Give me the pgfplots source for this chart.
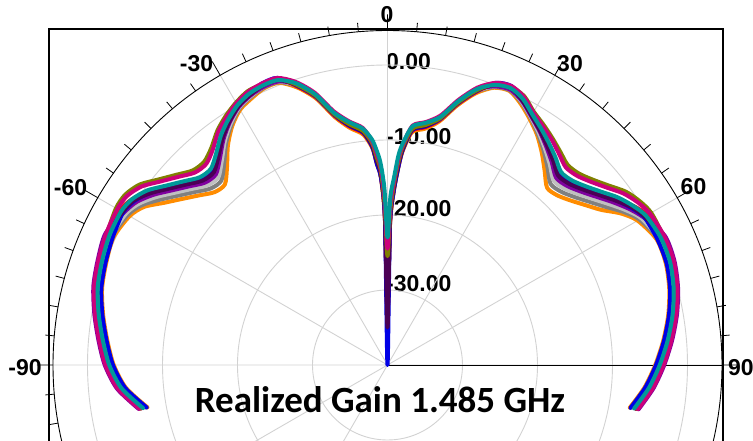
\documentclass[border=0pt]{standalone}
\usepackage{pgfplots}
\pgfplotsset{compat=1.18}
\usepackage{pgfplotstable}
\usepgfplotslibrary{polar}
\usepackage{fontspec}
\setmainfont{Liberation Sans}
\newfontfamily\calibri{Carlito}

\definecolor{cTe}{RGB}{0,153,153}
\definecolor{cOl}{RGB}{128,128,0}
\definecolor{cMg}{RGB}{204,0,122}
\definecolor{cBl}{RGB}{0,0,230}
\definecolor{cDp}{RGB}{75,0,85}
\definecolor{cPu}{RGB}{128,0,160}
\definecolor{cRd}{RGB}{255,0,0}
\definecolor{cSv}{RGB}{192,192,192}
\definecolor{cGy}{RGB}{128,128,128}
\definecolor{cOg}{RGB}{255,140,0}
\definecolor{cGrid}{RGB}{210,210,210}

% angle t: degrees from the top, clockwise; values: realized gain in dB
\pgfplotstableread{
t te ol mg bl dp pu rd sv gy og
-100 -6.9 -6.5 -6.4 -7.4 -6.6 -6.3 -6.7 -7.2 -7.3 -7.5
-95 -4.4 -4.0 -3.9 -4.9 -4.1 -3.8 -4.2 -4.7 -4.8 -5.0
-90 -2.9 -2.5 -2.4 -3.4 -2.6 -2.3 -2.7 -3.2 -3.3 -3.5
-85 -1.9 -1.5 -1.4 -2.4 -1.6 -1.3 -1.7 -2.2 -2.3 -2.5
-80 -0.9 -0.5 -0.4 -1.4 -0.6 -0.3 -0.7 -1.2 -1.3 -1.5
-75 0.0 0.4 0.5 -0.5 0.3 0.6 0.2 -0.3 -0.4 -0.6
-70 0.5 0.9 1.0 0.0 0.8 1.1 0.7 0.2 0.1 -0.1
-65 0.9 1.3 1.4 0.4 1.2 1.5 1.1 0.6 0.5 0.3
-60 1.0 1.8 1.6 0.7 0.8 0.6 1.2 0.3 0.0 -0.3
-57 0.6 1.7 1.4 0.2 0.3 -0.1 0.6 -0.5 -0.9 -1.3
-54 -0.4 0.9 0.5 -0.9 -1.0 -1.4 -0.7 -1.9 -2.5 -3.2
-51 -2.0 -0.7 -1.1 -2.5 -2.6 -3.0 -2.3 -3.5 -4.1 -4.8
-48 -3.4 -2.1 -2.5 -3.9 -4.0 -4.4 -3.7 -4.9 -5.5 -6.2
-45 -4.6 -3.3 -3.7 -5.1 -5.2 -5.6 -4.9 -6.1 -6.7 -7.4
-42 -4.8 -3.5 -3.9 -5.3 -5.4 -5.8 -5.1 -6.3 -6.9 -7.6
-39 -3.7 -2.7 -3.0 -4.1 -4.2 -4.5 -4.0 -4.9 -5.4 -6.0
-36 -2.2 -1.4 -1.6 -2.5 -2.6 -2.8 -2.4 -3.1 -3.4 -3.8
-33 -1.0 -0.4 -0.6 -1.2 -1.3 -1.4 -1.1 -1.6 -1.8 -2.0
-30 0.0 0.4 0.3 0.0 -0.2 -0.3 0.1 -0.4 -0.5 -0.7
-27 0.6 1.0 0.9 0.6 0.4 0.3 0.7 0.2 0.1 -0.1
-24 0.8 1.0 1.1 1.1 0.8 0.6 1.0 0.6 0.5 0.4
-21 0.7 0.9 1.0 1.0 0.7 0.5 0.9 0.5 0.4 0.3
-18 -0.5 -0.7 -0.3 -0.8 -0.7 -0.6 -0.9 -0.8 -0.9 -1.1
-15 -2.6 -2.8 -2.4 -2.9 -2.8 -2.7 -3.0 -2.9 -3.0 -3.2
-12 -5.6 -5.8 -5.4 -5.9 -5.8 -5.7 -6.0 -5.9 -6.0 -6.2
-9 -7.2 -7.5 -7.1 -7.7 -7.6 -7.5 -7.8 -7.6 -7.7 -8.0
-6 -8.3 -8.6 -8.2 -8.8 -8.7 -8.6 -8.9 -8.7 -8.8 -9.1
-4 -9.8 -10.3 -10.0 -10.8 -10.6 -10.4 -10.8 -10.6 -10.8 -11.0
-3 -11.2 -12.2 -11.7 -13.2 -12.7 -12.4 -13.0 -12.7 -13.0 -13.2
-2 -13.0 -14.0 -13.5 -15.0 -14.5 -14.2 -14.8 -14.5 -14.8 -15.0
-1 -16.5 -18.5 -17.5 -20.5 -19.5 -19.5 -20.0 -19.5 -20.0 -20.5
0 -23.0 -25.5 -24.5 -40 -35 -33 -33 -33 -33 -33
1 -17.5 -19.5 -18.5 -21.5 -20.5 -20.5 -21.0 -20.5 -21.0 -21.5
2 -15.0 -16.0 -15.5 -17.0 -16.5 -16.2 -16.8 -16.5 -16.8 -17.0
3 -12.0 -13.0 -12.5 -14.0 -13.5 -13.2 -13.8 -13.5 -13.8 -14.0
4 -10.3 -10.8 -10.5 -11.3 -11.1 -10.9 -11.3 -11.1 -11.3 -11.5
6 -8.0 -8.3 -7.9 -8.5 -8.4 -8.3 -8.6 -8.4 -8.5 -8.8
9 -7.3 -7.6 -7.2 -7.8 -7.7 -7.6 -7.9 -7.7 -7.8 -8.1
12 -6.2 -6.4 -6.0 -6.5 -6.4 -6.3 -6.6 -6.5 -6.6 -6.8
15 -3.6 -3.8 -3.4 -3.9 -3.8 -3.7 -4.0 -3.9 -4.0 -4.2
18 -1.3 -1.5 -1.1 -1.6 -1.5 -1.4 -1.7 -1.6 -1.7 -1.9
21 0.0 0.2 0.3 0.3 0.0 -0.2 0.2 -0.2 -0.3 -0.4
24 0.4 0.6 0.7 0.7 0.4 0.2 0.6 0.2 0.1 0.0
27 -0.2 0.2 0.1 -0.2 -0.4 -0.5 -0.1 -0.6 -0.7 -0.9
30 -1.4 -1.0 -1.1 -1.4 -1.6 -1.7 -1.3 -1.8 -1.9 -2.1
33 -2.4 -1.8 -2.0 -2.6 -2.7 -2.8 -2.5 -3.0 -3.2 -3.4
36 -3.4 -2.6 -2.8 -3.7 -3.8 -4.0 -3.6 -4.3 -4.6 -5.0
39 -4.4 -3.4 -3.7 -4.8 -4.9 -5.2 -4.7 -5.6 -6.1 -6.7
42 -5.4 -4.1 -4.5 -5.9 -6.0 -6.4 -5.7 -6.9 -7.5 -8.2
45 -5.2 -3.9 -4.3 -5.7 -5.8 -6.2 -5.5 -6.7 -7.3 -8.0
48 -4.4 -3.1 -3.5 -4.9 -5.0 -5.4 -4.7 -5.9 -6.5 -7.2
51 -3.3 -2.0 -2.4 -3.8 -3.9 -4.3 -3.6 -4.8 -5.4 -6.1
54 -2.0 -0.7 -1.1 -2.5 -2.6 -3.0 -2.3 -3.5 -4.1 -4.8
57 -1.0 0.1 -0.2 -1.4 -1.3 -1.7 -1.0 -2.1 -2.5 -2.9
60 -0.2 0.6 0.4 -0.5 -0.4 -0.6 0.0 -0.9 -1.2 -1.5
65 0.2 0.6 0.7 -0.3 0.5 0.8 0.4 -0.1 -0.2 -0.4
70 0.1 0.5 0.6 -0.4 0.4 0.7 0.3 -0.2 -0.3 -0.5
75 -0.5 -0.1 0.0 -1.0 -0.2 0.1 -0.3 -0.8 -0.9 -1.1
80 -1.4 -1.0 -0.9 -1.9 -1.1 -0.8 -1.2 -1.7 -1.8 -2.0
85 -2.5 -2.1 -2.0 -3.0 -2.2 -1.9 -2.3 -2.8 -2.9 -3.1
90 -3.7 -3.3 -3.2 -4.2 -3.4 -3.1 -3.5 -4.0 -4.1 -4.3
95 -5.0 -4.6 -4.5 -5.5 -4.7 -4.4 -4.8 -5.3 -5.4 -5.6
100 -6.6 -6.2 -6.1 -7.1 -6.3 -6.0 -6.4 -6.9 -7.0 -7.2
}\gaindata

\begin{document}
\begin{tikzpicture}
\useasboundingbox (0pt,0pt) rectangle (753pt,441pt);
\clip (0pt,0pt) rectangle (753pt,441pt);
\begin{scope}[every node/.style={font=\bfseries\fontsize{23}{23}\selectfont, inner sep=0pt}]
\node at (387pt,426pt) {0};
\node at (196.5pt,377.5pt) {-30};
\node at (570pt,377.5pt) {30};
\node at (70.5pt,253.5pt) {-60};
\node at (693.5pt,254.5pt) {60};
\node at (25pt,73pt) {-90};
\node[anchor=west] at (728pt,73.5pt) {90};
\node[anchor=base west] at (386pt,371pt) {0.00};
\node[anchor=base west] at (386pt,296pt) {-10.00};
\node[anchor=base west] at (386pt,224pt) {-20.00};
\node[anchor=base west] at (386pt,149pt) {-30.00};
\end{scope}
\begin{polaraxis}[
  at={(387.5pt,76pt)}, anchor=center,
  scale only axis, width=669pt, height=669pt,
  x coord trafo/.code={\pgfmathparse{90-#1}},
  x coord inv trafo/.code={\pgfmathparse{90-#1}},
  y coord trafo/.code={\pgfmathparse{#1+40}},
  y coord inv trafo/.code={\pgfmathparse{#1-40}},
  ymin=-40, ymax=4.6,
  xtick={-150,-120,...,180},
  minor x tick num=5,
  ytick={-30,-20,-10,0},
  xticklabels={}, yticklabels={},
  tick align=inside,
  major tick length=16pt, minor tick length=9pt,
  xmajorgrids, ymajorgrids,
  major grid style={draw=cGrid, line width=0.9pt},
  axis line style={black, line width=0.9pt},
  every tick/.style={black, line width=0.8pt},
  ytick style={draw=none},
  clip=false,
  every axis plot/.append style={no markers, smooth, tension=0.45, line width=4pt, line join=round, line cap=round},
]
\addplot[color=cOg] table[x=t,y=og]{\gaindata};
\addplot[color=cGy] table[x=t,y=gy]{\gaindata};
\addplot[color=cSv] table[x=t,y=sv]{\gaindata};
\addplot[color=cPu] table[x=t,y=pu]{\gaindata};
\addplot[color=cRd] table[x=t,y=rd]{\gaindata};
\addplot[color=cBl] table[x=t,y=bl]{\gaindata};
\addplot[color=cDp] table[x=t,y=dp]{\gaindata};
\addplot[color=cOl] table[x=t,y=ol]{\gaindata};
\addplot[color=cMg] table[x=t,y=mg]{\gaindata};
\addplot[color=cTe] table[x=t,y=te]{\gaindata};
\end{polaraxis}
\draw[black, line width=1.2pt] (49pt,412pt) rectangle (723pt,-300pt);
\node[font=\calibri\bfseries\fontsize{37}{37}\selectfont, anchor=base, inner sep=0pt] at (380pt,28pt) {Realized Gain 1.485 GHz};
\end{tikzpicture}
\end{document}
